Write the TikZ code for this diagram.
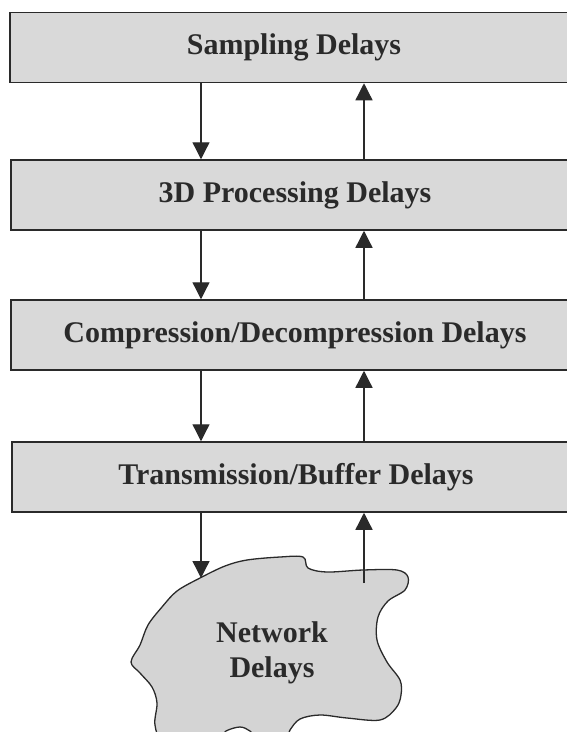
\documentclass[tikz,border=0pt]{standalone}
\usepackage{fontspec}
\setmainfont{Liberation Serif}
\usetikzlibrary{arrows.meta}
\definecolor{boxfill}{HTML}{D9D9D9}
\definecolor{cloudfill}{HTML}{D4D4D4}
\definecolor{ink}{HTML}{2A2A2A}
\tikzset{
  delaybox/.style={draw=ink, line width=1.5pt, fill=boxfill, rectangle,
    minimum width=568pt, minimum height=70pt, inner sep=0pt,
    font=\fontsize{30}{34}\selectfont\bfseries, text=ink},
  flow/.style={draw=ink, line width=1.3pt,
    -{Triangle[width=17pt,length=17pt]}},
}
\begin{document}
\begin{tikzpicture}[x=1pt, y=-1pt]
\useasboundingbox (0,0) rectangle (566,732);

% stacked delay stages
\node[delaybox] (samp) at (294,47.5)  {Sampling Delays};
\node[delaybox] (proc) at (295,195)   {3D Processing Delays};
\node[delaybox] (comp) at (295,335)   {Compression/Decompression Delays};
\node[delaybox] (trans) at (296,477)  {Transmission/Buffer Delays};

% the network cloud
\draw[draw=ink, line width=1.3pt, fill=cloudfill]
  plot[smooth cycle, tension=0.55] coordinates {
    (200,578) (225,566) (247,560) (280,557) (303,557) (308,568)
    (327,572) (363,570) (397,570) (408,577) (405,590) (388,601)
    (378,617) (377,640) (387,662) (400,680) (401,695) (396,708)
    (380,720) (347,718) (320,715) (300,719) (290,730) (285,740)
    (260,740) (250,731) (240,727) (226,731) (215,740) (165,740)
    (155,725) (157,703) (152,687) (140,673) (131,662) (140,645)
    (148,625) (162,607) (177,591)};
\node[font=\fontsize{30}{35}\selectfont\bfseries, text=ink, align=center]
  (net) at (272,653) {Network\\Delays};

% columns of the downward and upward paths
\coordinate (dn) at (201,0);
\coordinate (up) at (364,0);
\coordinate (netin) at (201,578);
\coordinate (netout) at (364,583);

% downward flow
\draw[flow] (samp.south -| dn) -- (proc.north -| dn);
\draw[flow] (proc.south -| dn) -- (comp.north -| dn);
\draw[flow] (comp.south -| dn) -- (trans.north -| dn);
\draw[flow] (trans.south -| dn) -- (netin);

% upward flow
\draw[flow] (netout) -- (trans.south -| up);
\draw[flow] (trans.north -| up) -- (comp.south -| up);
\draw[flow] (comp.north -| up) -- (proc.south -| up);
\draw[flow] (proc.north -| up) -- (samp.south -| up);
\end{tikzpicture}
\end{document}
